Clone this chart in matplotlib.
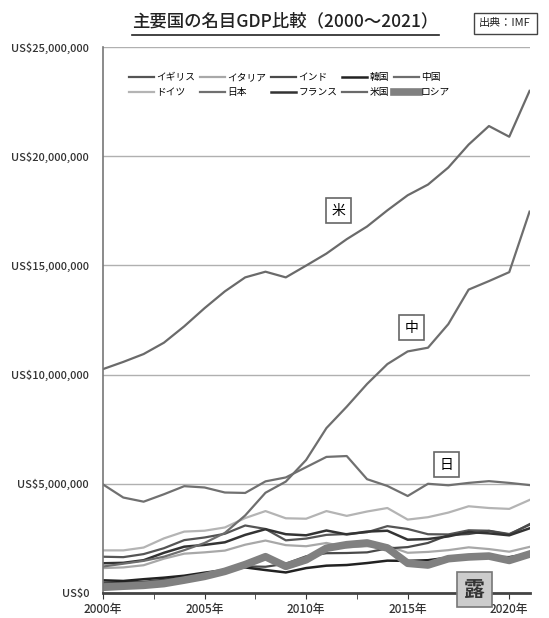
import matplotlib.pyplot as plt
from matplotlib.ticker import FuncFormatter, MultipleLocator

plt.rcParams['font.family'] = ['Noto Sans CJK JP', 'DejaVu Sans']

years = list(range(2000, 2022))

# Nominal GDP, billions of US$ (IMF)
uk = [1660, 1640, 1780, 2050, 2420, 2540, 2710, 3090, 2930, 2410, 2490,
      2660, 2700, 2780, 3060, 2930, 2690, 2680, 2870, 2850, 2700, 3120]
germany = [1950, 1950, 2080, 2500, 2810, 2850, 3000, 3430, 3750, 3420, 3400,
           3750, 3530, 3730, 3890, 3360, 3470, 3680, 3970, 3890, 3850, 4260]
italy = [1140, 1170, 1270, 1570, 1800, 1860, 1940, 2210, 2400, 2190, 2140,
         2290, 2090, 2140, 2160, 1840, 1880, 1960, 2090, 2010, 1890, 2110]
japan = [4970, 4370, 4180, 4520, 4890, 4830, 4600, 4580, 5110, 5290, 5760,
         6230, 6270, 5210, 4900, 4440, 5000, 4930, 5040, 5120, 5040, 4940]
india = [470, 490, 510, 610, 710, 820, 940, 1220, 1200, 1340, 1680,
         1820, 1830, 1860, 2040, 2100, 2290, 2650, 2700, 2840, 2670, 3150]
france = [1360, 1380, 1500, 1840, 2120, 2200, 2320, 2660, 2920, 2690, 2640,
          2860, 2680, 2810, 2850, 2440, 2470, 2590, 2790, 2730, 2640, 2960]
korea = [580, 550, 630, 700, 790, 930, 1050, 1170, 1050, 940, 1140,
         1250, 1280, 1370, 1480, 1470, 1500, 1620, 1720, 1650, 1640, 1800]
usa = [10250, 10580, 10940, 11460, 12210, 13040, 13810, 14450, 14710, 14450, 14990,
       15540, 16200, 16780, 17520, 18210, 18700, 19480, 20530, 21380, 20890, 22990]
china = [1210, 1340, 1470, 1660, 1960, 2290, 2750, 3550, 4590, 5100, 6090,
         7550, 8530, 9570, 10480, 11060, 11230, 12310, 13890, 14280, 14690, 17460]
russia = [260, 310, 350, 430, 590, 760, 990, 1300, 1660, 1220, 1520,
          2050, 2210, 2290, 2060, 1360, 1280, 1570, 1650, 1690, 1490, 1780]

# legend order (column-major, 5 columns)
series = [
    ('イギリス', uk, '#555555', 1.6),
    ('ドイツ', germany, '#b4b4b4', 1.6),
    ('イタリア', italy, '#a8a8a8', 1.6),
    ('日本', japan, '#707070', 1.6),
    ('インド', india, '#4a4a4a', 1.6),
    ('フランス', france, '#333333', 1.8),
    ('韓国', korea, '#222222', 1.8),
    ('米国', usa, '#6a6a6a', 1.6),
    ('中国', china, '#6e6e6e', 1.6),
    ('ロシア', russia, '#808080', 5.5),
]

fig = plt.figure(figsize=(5.49, 6.18), dpi=100)
ax = fig.add_axes([0.1876, 0.0405, 0.777, 0.8835])

for name, vals, color, lw in series:
    ax.plot(years, [v * 1000 for v in vals], color=color, lw=lw, label=name,
            solid_joinstyle='round')

ax.set_xlim(2000, 2021)
ax.set_ylim(0, 25000000)
ax.yaxis.set_major_locator(MultipleLocator(5000000))
ax.yaxis.set_major_formatter(FuncFormatter(lambda v, p: 'US${:,.0f}'.format(v)))
ax.xaxis.set_major_locator(MultipleLocator(5))
ax.xaxis.set_minor_locator(MultipleLocator(2.5))
ax.xaxis.set_major_formatter(FuncFormatter(lambda v, p: '{:d}年'.format(int(v))))

ax.grid(axis='y', color='#b0b0b0', lw=1)
ax.set_axisbelow(True)
ax.tick_params(axis='y', length=0, labelsize=8, labelcolor='#333333', pad=10)
ax.tick_params(axis='x', which='both', direction='out', length=4, color='#333333',
               labelsize=8.5, labelcolor='#333333')
ax.tick_params(axis='x', which='minor', length=4)
for lab in ax.get_yticklabels() + ax.get_xticklabels():
    lab.set_fontweight('medium')

for s in ['top', 'right']:
    ax.spines[s].set_visible(False)
ax.spines['left'].set_color('#777777')
ax.spines['left'].set_linewidth(1.2)
ax.spines['bottom'].set_color('#444444')
ax.spines['bottom'].set_linewidth(2)

ax.legend(ncol=5, loc='upper left', bbox_to_anchor=(0.04, 0.97), frameon=False,
          fontsize=7, handlelength=2.6, columnspacing=0.5, handletextpad=0.2,
          labelspacing=0.5)

# labels next to the lines
box = dict(boxstyle='square,pad=0.4', fc='white', ec='#666666', lw=1.2)
ax.text(2011.6, 17500000, '米', fontsize=10, ha='center', va='center', bbox=box)
ax.text(2015.2, 12150000, '中', fontsize=10, ha='center', va='center', bbox=box)
ax.text(2016.9, 5870000, '日', fontsize=10, ha='center', va='center', bbox=box)
ax.text(2018.3, 150000, '露', fontsize=15, fontweight='bold', ha='center', va='center',
        color='#333333', clip_on=False,
        bbox=dict(boxstyle='square,pad=0.35', fc='#cccccc', ec='#777777', lw=1.2))

fig.text(0.52, 0.965, '主要国の名目GDP比較（2000～2021）', fontsize=12.5, ha='center',
         va='center', color='#222222', fontweight='medium')
fig.add_artist(plt.Line2D([0.24, 0.8], [0.944, 0.944], color='#222222', lw=1.2))
fig.text(0.92, 0.962, '出典：IMF', fontsize=8, ha='center', va='center', color='#222222',
         bbox=dict(boxstyle='square,pad=0.5', fc='white', ec='#444444', lw=1))

plt.savefig('out.png', dpi=100)
